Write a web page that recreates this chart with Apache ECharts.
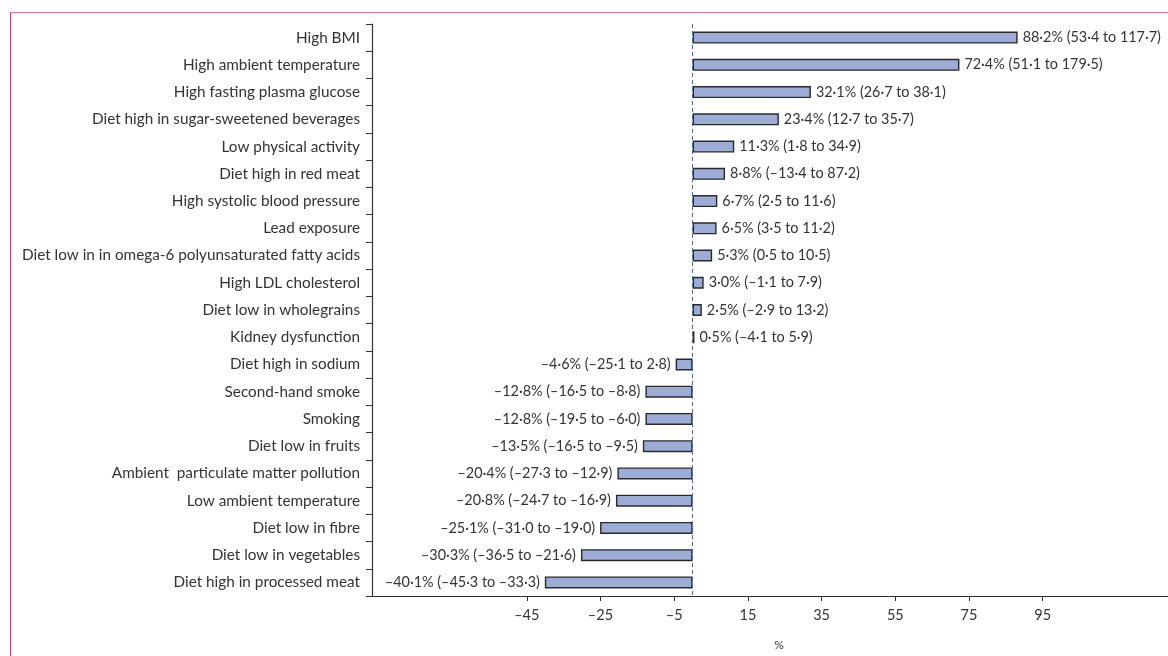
<!DOCTYPE html>
<html>
<head>
<meta charset="utf-8">
<script src="https://cdn.jsdelivr.net/npm/echarts@6/dist/echarts.min.js"></script>
<style>
html,body{margin:0;padding:0;background:#fff;}
#frame{position:absolute;left:10px;top:12px;width:1200px;height:700px;border-left:1.5px solid #d63a6a;border-top:1.5px solid #dc7092;box-sizing:border-box;}
#chart{position:absolute;left:0;top:0;width:1168px;height:656px;}
</style>
</head>
<body>
<div id="frame"></div>
<div id="chart"></div>
<script>
const categories = [
  "High BMI",
  "High ambient temperature",
  "High fasting plasma glucose",
  "Diet high in sugar-sweetened beverages",
  "Low physical activity",
  "Diet high in red meat",
  "High systolic blood pressure",
  "Lead exposure",
  "Diet low in in omega-6 polyunsaturated fatty acids",
  "High LDL cholesterol",
  "Diet low in wholegrains",
  "Kidney dysfunction",
  "Diet high in sodium",
  "Second-hand smoke",
  "Smoking",
  "Diet low in fruits",
  "Ambient  particulate matter pollution",
  "Low ambient temperature",
  "Diet low in fibre",
  "Diet low in vegetables",
  "Diet high in processed meat"
];
const change = [88.2, 72.4, 32.1, 23.4, 11.3, 8.8, 6.7, 6.5, 5.3, 3.0, 2.5, 0.5, -4.6, -12.8, -12.8, -13.5, -20.4, -20.8, -25.1, -30.3, -40.1];
const lower  = [53.4, 51.1, 26.7, 12.7, 1.8, -13.4, 2.5, 3.5, 0.5, -1.1, -2.9, -4.1, -25.1, -16.5, -19.5, -16.5, -27.3, -24.7, -31.0, -36.5, -45.3];
const upper  = [117.7, 179.5, 38.1, 35.7, 34.9, 87.2, 11.6, 11.2, 10.5, 7.9, 13.2, 5.9, 2.8, -8.8, -6.0, -9.5, -12.9, -16.9, -19.0, -21.6, -33.3];
const xTicks = [-45, -25, -5, 15, 35, 55, 75, 95];

function fmt(v) {
  return (v < 0 ? '\u2013' : '') + Math.abs(v).toFixed(1).replace('.', '\u00b7');
}
function fmtTick(v) {
  return (v < 0 ? '\u2013' : '') + Math.abs(v);
}

const barData = change.map(function (v) {
  return { value: v, label: { position: v < 0 ? 'left' : 'right' } };
});

const FONT = 'Lato';
const TXT = '#333';

const chart = echarts.init(document.getElementById('chart'), null, { renderer: 'canvas' });
chart.setOption({
  animation: false,
  backgroundColor: 'transparent',
  grid: { left: 372, right: 0, top: 24, bottom: 59, containLabel: false },
  xAxis: {
    type: 'value',
    min: -87,
    max: 129,
    splitLine: { show: false },
    axisLine: { show: true, onZero: false, lineStyle: { color: '#333', width: 1.2 } },
    axisTick: { show: true, length: 5, lineStyle: { color: '#333' }, customValues: xTicks },
    axisLabel: {
      customValues: xTicks,
      formatter: fmtTick,
      fontFamily: FONT, fontSize: 14.5, color: TXT, margin: 12
    },
    name: '%',
    nameLocation: 'middle',
    nameGap: 43,
    nameTextStyle: { fontFamily: FONT, fontSize: 12, color: TXT, padding: [0, 0, 0, 18] }
  },
  yAxis: {
    type: 'category',
    data: categories,
    inverse: true,
    axisLine: { show: true, onZero: false, lineStyle: { color: '#333', width: 1.2 } },
    axisTick: { show: true, length: 6, lineStyle: { color: '#333' } },
    axisLabel: { fontFamily: FONT, fontSize: 15.3, color: TXT, margin: 12 },
    splitLine: { show: false }
  },
  series: [{
    type: 'bar',
    data: barData,
    barWidth: 12,
    itemStyle: { color: '#9cacd6', borderColor: '#2a2a2a', borderWidth: 1.4 },
    label: {
      show: true,
      distance: 5,
      fontFamily: FONT, fontSize: 14.4, color: TXT,
      formatter: function (p) {
        const i = p.dataIndex;
        return fmt(change[i]) + '% (' + fmt(lower[i]) + ' to ' + fmt(upper[i]) + ')';
      }
    },
    markLine: {
      silent: true,
      symbol: 'none',
      label: { show: false },
      lineStyle: { color: '#4d6b8c', type: [4, 3], width: 1 },
      data: [{ xAxis: 0 }]
    }
  }]
});
</script>
</body>
</html>
